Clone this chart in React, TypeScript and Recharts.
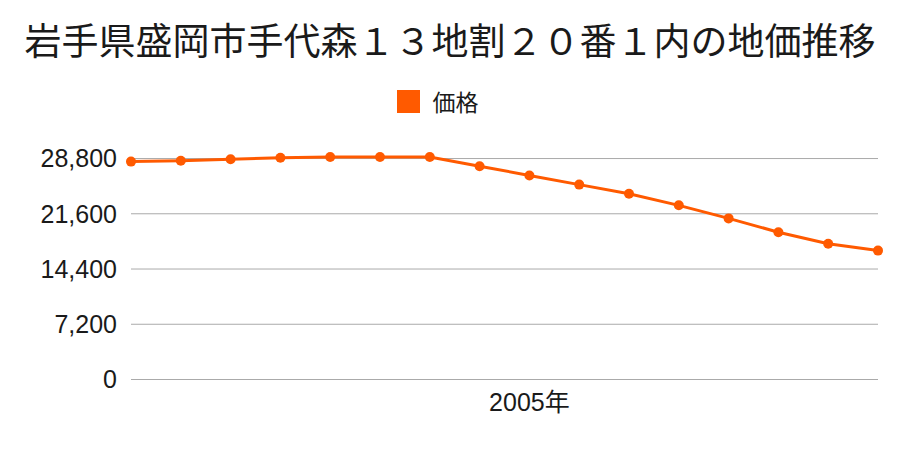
import React from 'react';
import { LineChart, Line, XAxis, YAxis, CartesianGrid, Legend } from 'recharts';

const years = ['1997年','1998年','1999年','2000年','2001年','2002年','2003年','2004年','2005年','2006年','2007年','2008年','2009年','2010年','2011年','2012年'];
const prices = [28400, 28500, 28700, 28900, 29000, 29000, 29000, 27800, 26600, 25400, 24200, 22700, 21000, 19200, 17700, 16800];
const yTicks = [0, 7200, 14400, 21600, 28800];
const shownYear = '2005年';
const title = '岩手県盛岡市手代森１３地割２０番１内の地価推移';
const seriesName = '価格';

const data = years.map((y, i) => ({ year: y, price: prices[i] }));

const FONT = '"Noto Sans CJK JP", "Noto Sans", sans-serif';
const TICK_FONT = '"Liberation Sans", "Noto Sans CJK JP", sans-serif';
const ORANGE = '#ff5a00';

const LegendContent = () => (
  <div style={{ display: 'flex', justifyContent: 'center', alignItems: 'center', fontFamily: FONT, height: 23 }}>
    <div style={{ width: 23, height: 23, background: ORANGE, marginRight: 13, marginLeft: -25 }} />
    <span style={{ fontSize: 23, color: '#1a1a1a', lineHeight: '23px' }}>{seriesName}</span>
  </div>
);

export default function App() {
  return (
    <div style={{ position: 'absolute', left: 0, top: 0, width: 900, height: 450, background: '#fff' }}>
      <div style={{ position: 'absolute', left: 0, top: 15, width: 900, textAlign: 'center', fontFamily: FONT, fontSize: 37, lineHeight: '48px', color: '#1a1a1a', whiteSpace: 'nowrap' }}>
        {title}
      </div>
      <LineChart width={900} height={450} data={data} margin={{ top: 134, right: 22, bottom: 40.5, left: 0 }}>
        <CartesianGrid horizontal vertical={false} horizontalValues={yTicks} stroke="#aaaaaa" strokeWidth={1} />
        <XAxis
          dataKey="year"
          axisLine={false}
          tickLine={false}
          interval={0}
          height={30}
          tickMargin={8}
          tickFormatter={(v: string) => (v === shownYear ? v : '')}
          tick={{ fontSize: 25, fill: '#1a1a1a', fontFamily: TICK_FONT }}
        />
        <YAxis
          domain={[0, 29000]}
          ticks={yTicks}
          width={131}
          axisLine={false}
          tickLine={false}
          tickMargin={8}
          tickFormatter={(v: number) => v.toLocaleString('en-US')}
          tick={{ fontSize: 25, fill: '#1a1a1a', fontFamily: TICK_FONT }}
        />
        <Legend verticalAlign="top" wrapperStyle={{ position: 'absolute', top: 90, left: 0, width: 900 }} content={<LegendContent />} />
        <Line
          type="linear"
          dataKey="price"
          name={seriesName}
          stroke={ORANGE}
          strokeWidth={3}
          dot={{ r: 5, fill: ORANGE, stroke: ORANGE, strokeWidth: 0 }}
          activeDot={false}
          isAnimationActive={false}
        />
      </LineChart>
    </div>
  );
}
